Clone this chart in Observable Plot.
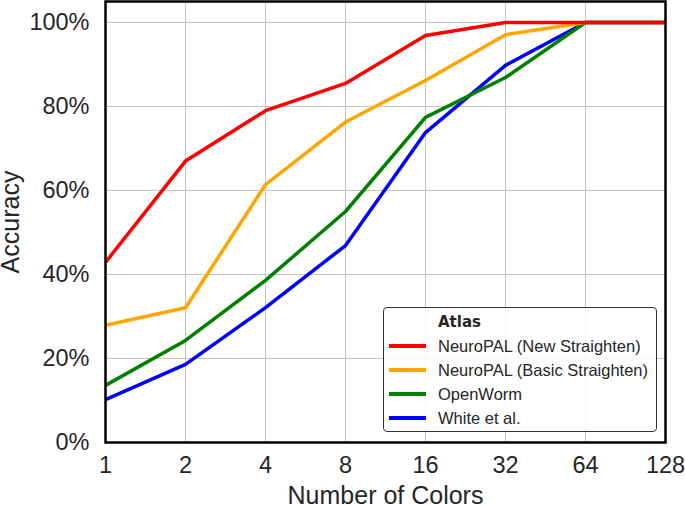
<!DOCTYPE html>
<html>
<head>
<meta charset="utf-8">
<script src="https://cdn.jsdelivr.net/npm/d3@7"></script>
<script src="https://cdn.jsdelivr.net/npm/@observablehq/plot@0.6"></script>
<style>
  html, body { margin: 0; padding: 0; background: #fff; }
  #wrap { position: relative; width: 685px; height: 505px; font-family: "Liberation Sans", Arial, sans-serif; color: #262626; }
  #legend { position: absolute; left: 383px; top: 307px; width: 274px; height: 125px; box-sizing: border-box;
            border: 1px solid #333; border-radius: 4px; background: rgba(255,255,255,0.85); }
  #legend .title { position: absolute; left: 54px; top: 3px; font-family: "DejaVu Sans", sans-serif; font-weight: bold; font-size: 15px; line-height: 22px; color: #262626; }
  #legend .row { position: absolute; left: 0; height: 24px; width: 100%; }
  #legend .swatch { position: absolute; left: 5px; top: 10px; width: 37px; height: 3.5px; }
  #legend .lab { position: absolute; left: 54px; top: 0; line-height: 24px; font-size: 16.5px; color: #262626; white-space: nowrap; }
</style>
</head>
<body>
<div id="wrap"></div>
<script>
// ---- data ----
const colors = [1, 2, 4, 8, 16, 32, 64, 128];
const seriesNames = ["NeuroPAL (New Straighten)", "NeuroPAL (Basic Straighten)", "OpenWorm", "White et al."];
const seriesColors = ["#ff0000", "#ffa500", "#008000", "#0000ff"];
const newStraighten   = [42.9, 67.0, 79.0, 85.5, 96.9, 100, 100, 100];
const basicStraighten = [27.9, 32.1, 61.4, 76.3, 86.2, 97.1, 100, 100];
const openWorm        = [13.6, 24.3, 38.6, 55.0, 77.4, 86.9, 100, 100];
const whiteEtAl       = [10.2, 18.6, 32.1, 46.9, 73.8, 89.8, 100, 100];
const yTicks = [0, 20, 40, 60, 80, 100];

const allSeries = [newStraighten, basicStraighten, openWorm, whiteEtAl];
const rows = [];
// draw order: last series first so red is on top
for (let s = allSeries.length - 1; s >= 0; s--) {
  allSeries[s].forEach((v, i) => rows.push({ x: colors[i], y: v, series: seriesNames[s] }));
}

const chart = Plot.plot({
  width: 685,
  height: 505,
  marginLeft: 105,
  marginRight: 20,
  marginTop: 1,
  marginBottom: 63,
  style: { fontFamily: "Liberation Sans, Arial, sans-serif", fontSize: "23px", color: "#262626", background: "#fff" },
  x: { type: "log", base: 2, domain: [1, 128] },
  y: { domain: [0, 105] },
  color: { domain: seriesNames, range: seriesColors },
  marks: [
    Plot.gridX(colors, { stroke: "#c4c4c4", strokeOpacity: 1, strokeWidth: 1 }),
    Plot.gridY(yTicks, { stroke: "#c4c4c4", strokeOpacity: 1, strokeWidth: 1 }),
    Plot.axisX(colors, { tickSize: 0, tickPadding: 14, tickFormat: d => String(d), label: null, fontSize: 23.5 }),
    Plot.axisY(yTicks, { tickSize: 0, tickPadding: 16, tickFormat: d => d + "%", label: null, fontSize: 23.5 }),
    Plot.line(rows, { x: "x", y: "y", z: "series", stroke: "series", strokeWidth: 3.5, strokeLinejoin: "miter", strokeLinecap: "butt" }),
    Plot.frame({ stroke: "#000", strokeWidth: 2.5 }),
    Plot.text(["Accuracy"], { frameAnchor: "left", textAnchor: "middle", lineAnchor: "middle", rotate: -90, dx: -94.5, fontSize: 25, fill: "#262626" }),
    Plot.text(["Number of Colors"], { frameAnchor: "bottom", textAnchor: "middle", lineAnchor: "middle", dy: 53, fontSize: 25, fill: "#262626" })
  ]
});

const wrap = document.getElementById("wrap");
wrap.appendChild(chart);

// legend
const legend = document.createElement("div");
legend.id = "legend";
const t = document.createElement("div");
t.className = "title";
t.textContent = "Atlas";
legend.appendChild(t);
seriesNames.forEach((name, i) => {
  const r = document.createElement("div");
  r.className = "row";
  r.style.top = (26 + i * 24) + "px";
  const sw = document.createElement("div");
  sw.className = "swatch";
  sw.style.background = seriesColors[i];
  const lb = document.createElement("div");
  lb.className = "lab";
  lb.textContent = name;
  r.appendChild(sw); r.appendChild(lb);
  legend.appendChild(r);
});
wrap.appendChild(legend);
</script>
</body>
</html>
